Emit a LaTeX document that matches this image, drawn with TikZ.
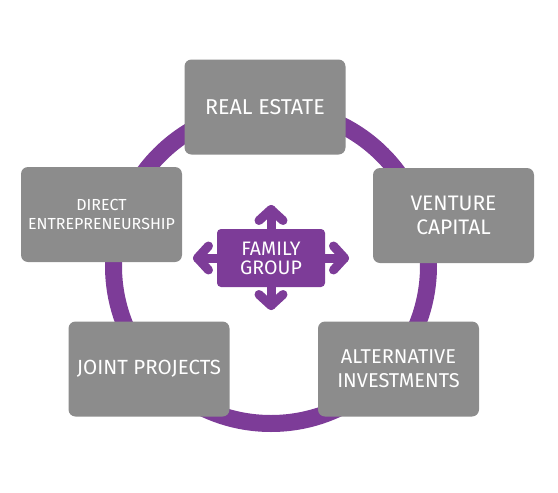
\documentclass[tikz,border=0pt]{standalone}
\usepackage{fontspec}
\setmainfont{Fira Sans}
\usepackage{xcolor}
\usetikzlibrary{calc}
\definecolor{famPurple}{RGB}{125,60,152}
\definecolor{boxGray}{RGB}{140,140,140}

\begin{document}
\begin{tikzpicture}[x=1pt, y=-1pt,
    area/.style={fill=boxGray, rounded corners=7pt, minimum width=161pt, minimum height=95pt,
      text=white, align=center, inner sep=0pt},
    famarrow/.style={draw=famPurple, line width=9pt, line cap=round, line join=round}]
  \useasboundingbox (0,0) rectangle (558,493);
  % \draw[help lines, gray!50, very thin] (0,0) grid[step=50] (558,493);

  % ring behind the boxes
  \draw[famPurple, line width=17pt] (271,266) circle (157.5pt);

  \node[area, font=\fontsize{21.5}{23}\selectfont] (realestate) at (265,107) {REAL ESTATE};
  \node[area, font=\fontsize{21}{23.5}\selectfont] (venture) at (453.5,215.5) {VENTURE\\CAPITAL};
  \node[area, font=\fontsize{16}{19}\selectfont] (direct) at (101.5,214.5) {DIRECT\\ENTREPRENEURSHIP};
  \node[area, font=\fontsize{20.5}{23}\selectfont] (joint) at (149,369) {JOINT PROJECTS};
  \node[area, font=\fontsize{20}{24}\selectfont] (alternative) at (398.5,369) {ALTERNATIVE\\INVESTMENTS};

  % centre symbol
  \node[fill=famPurple, rounded corners=4pt, minimum width=108pt, minimum height=58pt,
    text=white, align=center, inner sep=0pt, font=\fontsize{19.5}{19}\selectfont] (family) at (271,258) {FAMILY\\GROUP};
  \coordinate (upTip) at (271,209.5);
  \coordinate (downTip) at (271,305.5);
  \coordinate (leftTip) at (197.5,258);
  \coordinate (rightTip) at (344.5,258);
  \draw[famarrow] (family.north) -- (upTip);
  \draw[famarrow] (family.south) -- (downTip);
  \draw[famarrow] (family.west) -- (leftTip);
  \draw[famarrow] (family.east) -- (rightTip);
  \draw[famarrow] ($(upTip)+(-12,11)$) -- (upTip) -- ++(12,11);
  \draw[famarrow] ($(downTip)+(-12,-11)$) -- (downTip) -- ++(12,-11);
  \draw[famarrow] ($(leftTip)+(11,-12)$) -- (leftTip) -- ++(11,12);
  \draw[famarrow] ($(rightTip)+(-11,-12)$) -- (rightTip) -- ++(-11,12);
\end{tikzpicture}
\end{document}
